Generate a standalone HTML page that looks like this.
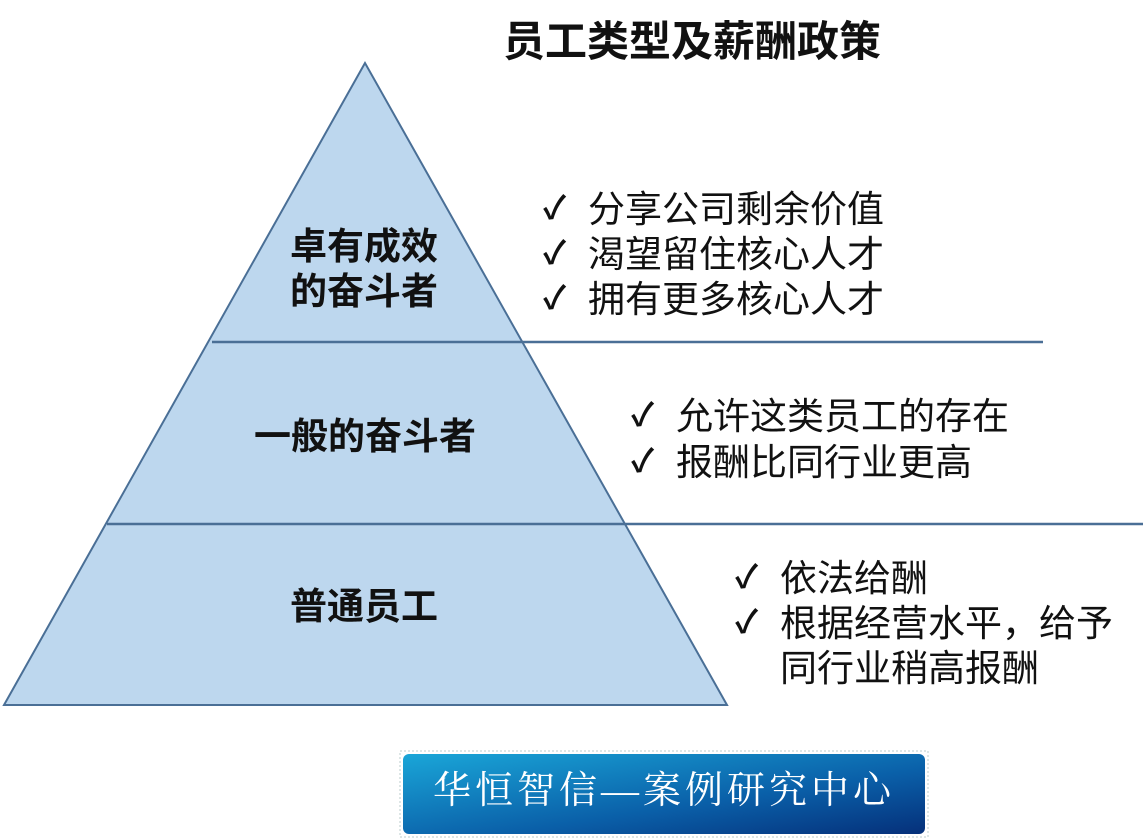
<!DOCTYPE html>
<html><head><meta charset="utf-8"><style>
body{margin:0;width:1145px;height:839px;background:#fff;position:relative;overflow:hidden;font-family:"Liberation Sans","Noto Sans CJK SC",sans-serif}
.t{position:absolute;white-space:nowrap;line-height:1}
.b{font-weight:bold;color:#111;font-size:37px}
.n{font-size:37px;color:#111}
.c{position:absolute;font-size:32px;color:#111;font-weight:bold}
</style></head><body>
<svg width="1145" height="839" style="position:absolute;left:0;top:0">
<polygon points="365,63 4,705 727,705" fill="#bdd7ee" stroke="#4a6f96" stroke-width="2"/>
<line x1="212" y1="342" x2="1043" y2="342" stroke="#4a6f96" stroke-width="2.5"/>
<line x1="107" y1="524" x2="1143" y2="524" stroke="#4a6f96" stroke-width="2.5"/>
<defs><linearGradient id="g" x1="0" y1="0" x2="1" y2="1"><stop offset="0" stop-color="#1aa6d8"/><stop offset="0.6" stop-color="#0a5fa8"/><stop offset="1" stop-color="#05307a"/></linearGradient></defs>
<rect x="400" y="751" width="528" height="86" fill="none" stroke="#bcc" stroke-dasharray="2,2"/>
<rect x="403" y="754" width="522" height="80" rx="6" fill="url(#g)"/>
</svg>
<div class="t b" style="left:503px;top:21px;font-size:42px">员工类型及薪酬政策</div>
<div class="t b" style="left:290px;top:224px;line-height:45px">卓有成效<br>的奋斗者</div>
<div class="t b" style="left:254px;top:418px">一般的奋斗者</div>
<div class="t b" style="left:290px;top:588px">普通员工</div>

<div class="c" style="left:543px;top:183px">✓</div><div class="c" style="left:543px;top:228px">✓</div><div class="c" style="left:543px;top:273px">✓</div>
<div class="t n" style="left:588px;top:187px;line-height:45px">分享公司剩余价值<br>渴望留住核心人才<br>拥有更多核心人才</div>

<div class="c" style="left:631px;top:390px">✓</div><div class="c" style="left:631px;top:436px">✓</div>
<div class="t n" style="left:676px;top:394px;line-height:46px">允许这类员工的存在<br>报酬比同行业更高</div>

<div class="c" style="left:735px;top:552px">✓</div><div class="c" style="left:735px;top:597px">✓</div>
<div class="t n" style="left:780px;top:556px;line-height:45px">依法给酬<br>根据经营水平，给予<br>同行业稍高报酬</div>

<div class="t" style="left:403px;top:772px;width:522px;text-align:center;color:#fff;font-size:38px;letter-spacing:4px;font-family:'Liberation Serif','Noto Serif CJK SC',serif">华恒智信—案例研究中心</div>
</body></html>
